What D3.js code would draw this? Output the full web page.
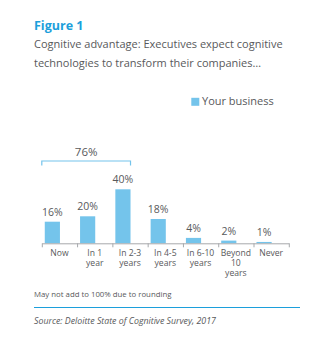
<!DOCTYPE html>
<html>
<head>
<meta charset="utf-8">
<script src="https://cdn.jsdelivr.net/npm/d3@7"></script>
<style>
  html, body { margin: 0; padding: 0; background: #fff; }
  svg { display: block; font-family: "Open Sans", "Noto Sans", sans-serif; }
</style>
</head>
<body>
<svg id="chart" width="330" height="338"></svg>
<script>
// Expected timing of cognitive transformation
const categories = [["Now"], ["In 1", "year"], ["In 2-3", "years"], ["In 4-5", "years"], ["In 6-10", "years"], ["Beyond", "10", "years"], ["Never"]];
const values = [16, 20, 40, 18, 4, 2, 1];
const seriesName = "Your business";
const bracketCount = 3; // "Now" through "In 2-3 years"

const barColor = "#74c4eb";
const titleBlue = "#1c9fdb";
const textColor = "#58595b";

const svg = d3.select("#chart");

// Heading
svg.append("text").attr("x", 34).attr("y", 29.5)
  .attr("font-size", 12.5).attr("font-weight", 700).attr("fill", titleBlue)
  .text("Figure 1");
const subtitle = ["Cognitive advantage: Executives expect cognitive", "technologies to transform their companies\u2026"];
svg.append("g").selectAll("text").data(subtitle).join("text")
  .attr("x", 34).attr("y", (d, i) => 48 + i * 18.5)
  .attr("font-size", 11).attr("fill", textColor)
  .text(d => d);

// Scales
const keys = categories.map(c => c.join(" "));
const x = d3.scaleBand().domain(keys).range([42.3, 289.3]).padding(0);
const y = d3.scaleLinear().domain([0, 40]).range([243.3, 189.3]);
const bw = x.bandwidth();
const barX = k => x(k) + bw * 0.07;
const barW = bw * 0.43;

// Legend
svg.append("rect").attr("x", 191.3).attr("y", 97.8).attr("width", 8).attr("height", 8).attr("fill", barColor);
svg.append("text").attr("x", 202).attr("y", 105.3).attr("font-size", 11).attr("fill", textColor).text(seriesName);

// Bars
svg.append("g").selectAll("rect").data(values).join("rect")
  .attr("x", (d, i) => barX(keys[i]))
  .attr("width", barW)
  .attr("y", d => y(d))
  .attr("height", d => y(0) - y(d))
  .attr("fill", barColor);

// Value labels
svg.append("g").selectAll("text").data(values).join("text")
  .attr("x", (d, i) => barX(keys[i]) + barW / 2)
  .attr("y", d => y(d) - 6)
  .attr("text-anchor", "middle")
  .attr("font-size", 10.5).attr("fill", textColor)
  .text(d => d + "%");

// Category axis
const axis = svg.append("g");
axis.append("line").attr("x1", x.range()[0]).attr("x2", x.range()[1])
  .attr("y1", y(0) + 0.5).attr("y2", y(0) + 0.5).attr("stroke", "#a7a9ac").attr("stroke-width", 1);
const edges = keys.map(k => x(k)).concat([x.range()[1]]);
axis.selectAll("line.tick").data(edges).join("line").attr("class", "tick")
  .attr("x1", d => d).attr("x2", d => d)
  .attr("y1", y(0)).attr("y2", y(0) + 4)
  .attr("stroke", "#a7a9ac").attr("stroke-width", 1);
// one text element per label line
const catLines = categories.flatMap((lines, i) =>
  lines.map((s, j) => ({ s, j, cx: x(keys[i]) + bw / 2 - 0.5 })));
axis.selectAll("text").data(catLines).join("text")
  .attr("x", d => d.cx)
  .attr("y", d => 255.8 + d.j * 10)
  .attr("text-anchor", "middle")
  .attr("font-size", 8.6).attr("fill", textColor)
  .text(d => d.s);

// Bracket summing the first categories
const total = d3.sum(values.slice(0, bracketCount));
const bx0 = x(keys[0]) - 0.5;
const bx1 = barX(keys[bracketCount - 1]) + barW;
svg.append("path")
  .attr("d", `M${bx0},165.5V161H${bx1}V165.5`)
  .attr("fill", "none").attr("stroke", barColor).attr("stroke-width", 1.2);
svg.append("text").attr("x", (bx0 + bx1) / 2).attr("y", 155.8)
  .attr("text-anchor", "middle").attr("font-size", 11.5).attr("fill", textColor)
  .text(total + "%");

// Footer
svg.append("text").attr("x", 34).attr("y", 297).attr("font-size", 7.8).attr("fill", textColor)
  .text("May not add to 100% due to rounding");
svg.append("line").attr("x1", 34).attr("x2", 300).attr("y1", 307.5).attr("y2", 307.5)
  .attr("stroke", titleBlue).attr("stroke-width", 1.2);
svg.append("text").attr("x", 34).attr("y", 323.5).attr("font-size", 8.8).attr("font-style", "italic").attr("fill", textColor)
  .text("Source: Deloitte State of Cognitive Survey, 2017");
</script>
</body>
</html>
